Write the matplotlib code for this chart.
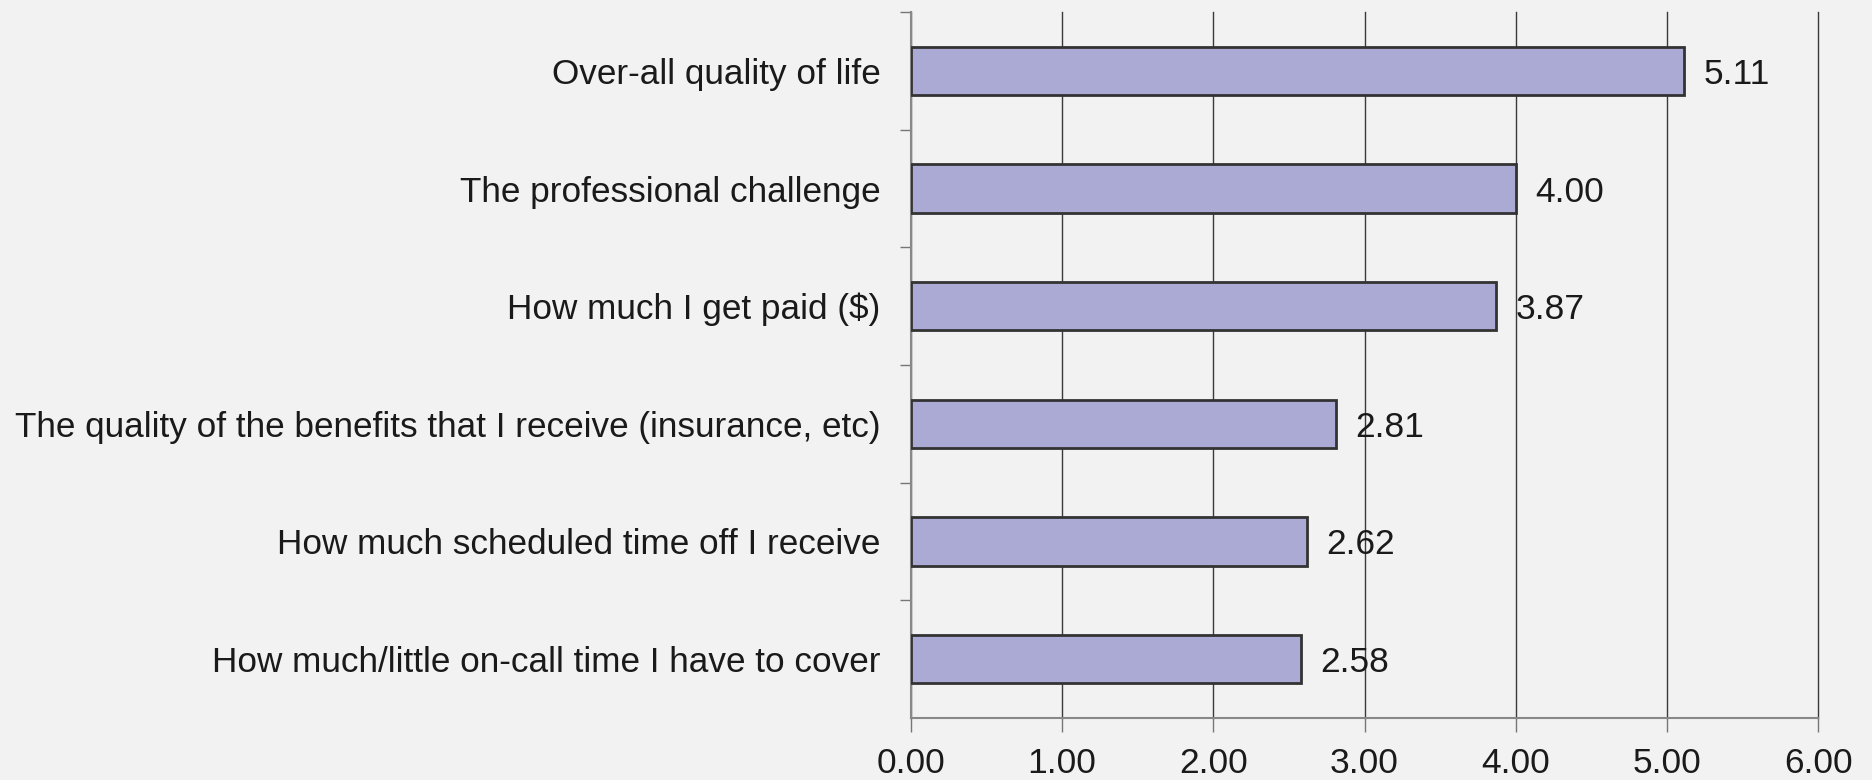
import matplotlib.pyplot as plt
from matplotlib.ticker import FixedLocator

categories = [
    "Over-all quality of life",
    "The professional challenge",
    "How much I get paid ($)",
    "The quality of the benefits that I receive (insurance, etc)",
    "How much scheduled time off I receive",
    "How much/little on-call time I have to cover",
]
values = [5.11, 4.00, 3.87, 2.81, 2.62, 2.58]
xticks = [0, 1, 2, 3, 4, 5, 6]

plt.rcParams['font.family'] = ['Liberation Sans', 'DejaVu Sans']

bg = '#f2f2f2'
fig = plt.figure(figsize=(18.72, 7.8), dpi=100, facecolor=bg)
ax = fig.add_axes([0.4866, 0.0795, 0.9712 - 0.4866, 0.9846 - 0.0795])
ax.set_facecolor(bg)

pos = list(range(len(categories)))[::-1]
ax.barh(pos, values, height=0.41, color='#aaaad4', edgecolor='#333333',
        linewidth=2, zorder=3)

for p, v in zip(pos, values):
    ax.text(v + 0.13, p, '{:.2f}'.format(v), va='center_baseline', ha='left',
            fontsize=25.5, color='#1a1a1a', zorder=4)

ax.set_xlim(0, 6)
ax.set_ylim(-0.5, 5.5)
ax.set_xticks(xticks)
ax.set_xticklabels(['{:.2f}'.format(t) for t in xticks], fontsize=25.5, color='#1a1a1a')
ax.xaxis.grid(True, color='#3a3a3a', linewidth=1, zorder=0)
for gl in ax.get_xgridlines():
    gl.set_clip_on(False)

ax.set_yticks(pos)
ax.set_yticklabels(categories, fontsize=25.3, color='#1a1a1a', va='center_baseline')
ax.tick_params(axis='y', which='major', length=0, pad=22)
ax.yaxis.set_minor_locator(FixedLocator([p + 0.5 for p in range(6)]))
ax.tick_params(axis='y', which='minor', length=8, color='#777777', width=1)
ax.tick_params(axis='x', length=10, color='#777777', width=1, pad=11)

for s in ['top', 'right']:
    ax.spines[s].set_visible(False)
for s in ['left', 'bottom']:
    ax.spines[s].set_color('#888888')
    ax.spines[s].set_linewidth(1.5)

fig.savefig('out.png', dpi=100, facecolor=bg)
